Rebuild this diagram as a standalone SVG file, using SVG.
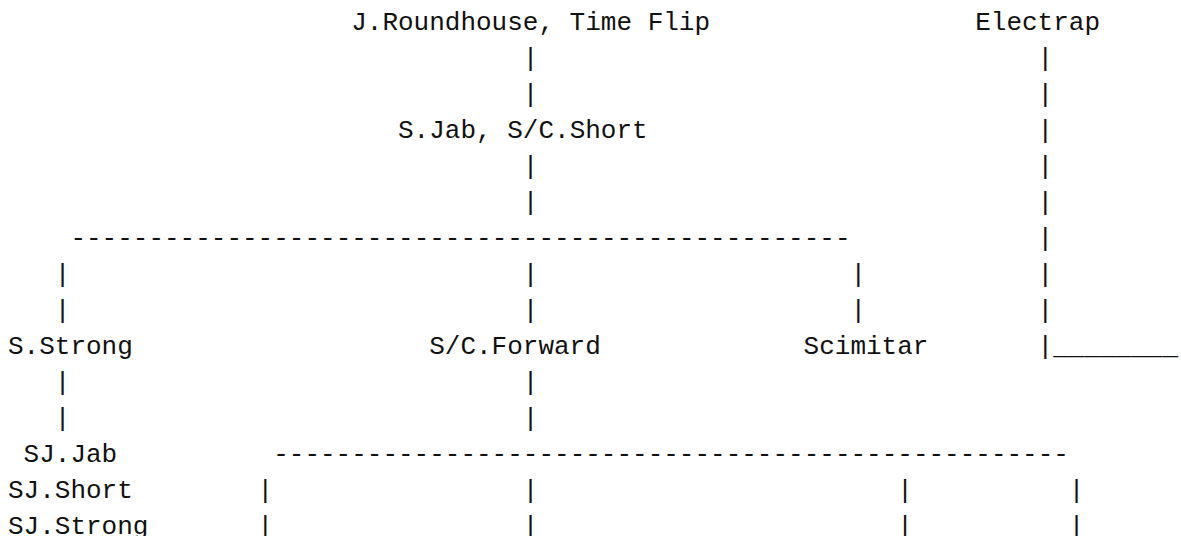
<svg xmlns="http://www.w3.org/2000/svg" width="1181" height="536" viewBox="0 0 1181 536">
<style>
text { font-family: "Liberation Mono", "Courier New", monospace; font-size: 26px; fill: #111; white-space: pre; }
</style>
<rect width="1181" height="536" fill="#ffffff"/>
<g id="connectors">
  <text x="522.8" y="66">|</text>
  <text x="1037.6" y="66">|</text>
  <text x="522.8" y="102">|</text>
  <text x="1037.6" y="102">|</text>
  <text x="1037.6" y="138">|</text>
  <text x="522.8" y="174">|</text>
  <text x="1037.6" y="174">|</text>
  <text x="522.8" y="210">|</text>
  <text x="1037.6" y="210">|</text>
  <text x="70.4" y="246">--------------------------------------------------</text>
  <text x="1037.6" y="246">|</text>
  <text x="54.8" y="282">|</text>
  <text x="522.8" y="282">|</text>
  <text x="850.4" y="282">|</text>
  <text x="1037.6" y="282">|</text>
  <text x="54.8" y="318">|</text>
  <text x="522.8" y="318">|</text>
  <text x="850.4" y="318">|</text>
  <text x="1037.6" y="318">|</text>
  <text x="1037.6" y="354">|________</text>
  <text x="54.8" y="390">|</text>
  <text x="522.8" y="390">|</text>
  <text x="54.8" y="426">|</text>
  <text x="522.8" y="426">|</text>
  <text x="273.2" y="462">---------------------------------------------------</text>
  <text x="257.6" y="498">|</text>
  <text x="522.8" y="498">|</text>
  <text x="897.2" y="498">|</text>
  <text x="1068.8" y="498">|</text>
  <text x="257.6" y="534">|</text>
  <text x="522.8" y="534">|</text>
  <text x="897.2" y="534">|</text>
  <text x="1068.8" y="534">|</text>
</g>
<g id="node-roundhouse"><text x="351.2" y="30">J.Roundhouse, Time Flip</text></g>
<g id="node-electrap"><text x="975.2" y="30">Electrap</text></g>
<g id="node-sjab"><text x="398" y="138">S.Jab, S/C.Short</text></g>
<g id="node-sstrong"><text x="8" y="354">S.Strong</text></g>
<g id="node-forward"><text x="429.2" y="354">S/C.Forward</text></g>
<g id="node-scimitar"><text x="803.6" y="354">Scimitar</text></g>
<g id="node-sjjab"><text x="23.6" y="462">SJ.Jab</text></g>
<g id="node-sjshort"><text x="8" y="498">SJ.Short</text></g>
<g id="node-sjstrong"><text x="8" y="534">SJ.Strong</text></g>
</svg>
